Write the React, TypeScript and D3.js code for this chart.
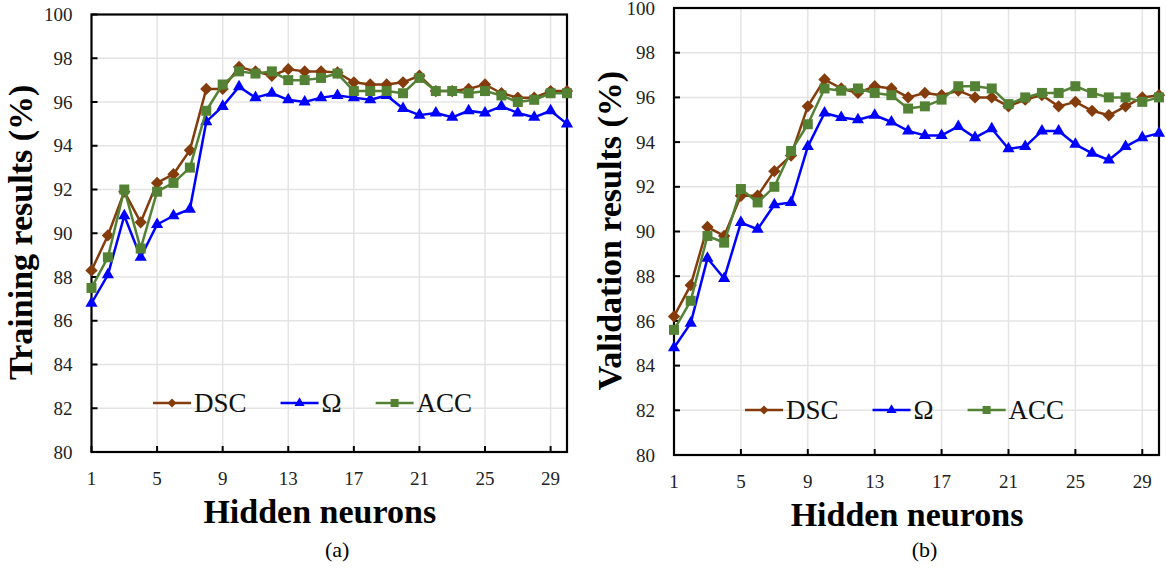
import React, { useEffect, useRef } from 'react';
import * as d3 from 'd3';

// hidden neuron counts (x axis)
const neurons = [1, 2, 3, 4, 5, 6, 7, 8, 9, 10, 11, 12, 13, 14, 15, 16, 17, 18, 19, 20, 21, 22, 23, 24, 25, 26, 27, 28, 29, 30];
const xTicks = [1, 5, 9, 13, 17, 21, 25, 29];
const yTicks = [80, 82, 84, 86, 88, 90, 92, 94, 96, 98, 100];

// (a) training
const trainDSC = [88.3, 89.9, 91.9, 90.5, 92.3, 92.7, 93.8, 96.6, 96.6, 97.6, 97.4, 97.2, 97.5, 97.4, 97.4, 97.35, 96.9, 96.8, 96.8, 96.9, 97.2, 96.5, 96.5, 96.6, 96.8, 96.4, 96.2, 96.2, 96.5, 96.5];
const trainOmega = [86.8, 88.1, 90.8, 88.9, 90.4, 90.8, 91.1, 95.1, 95.8, 96.7, 96.2, 96.4, 96.1, 96.0, 96.2, 96.3, 96.2, 96.1, 96.3, 95.7, 95.4, 95.5, 95.3, 95.6, 95.5, 95.8, 95.5, 95.3, 95.6, 95.0];
const trainACC = [87.5, 88.9, 92.0, 89.3, 91.9, 92.3, 93.0, 95.6, 96.8, 97.4, 97.3, 97.4, 97.0, 97.0, 97.1, 97.3, 96.5, 96.5, 96.5, 96.4, 97.1, 96.5, 96.5, 96.4, 96.5, 96.3, 96.0, 96.1, 96.4, 96.4];

// (b) validation
const valDSC = [86.2, 87.6, 90.2, 89.8, 91.6, 91.6, 92.7, 93.4, 95.6, 96.8, 96.4, 96.2, 96.5, 96.4, 96.0, 96.2, 96.1, 96.3, 96.0, 96.0, 95.6, 95.9, 96.1, 95.6, 95.8, 95.4, 95.2, 95.6, 96.0, 96.1];
const valOmega = [84.8, 85.9, 88.8, 87.9, 90.4, 90.1, 91.2, 91.3, 93.8, 95.3, 95.1, 95.0, 95.2, 94.9, 94.5, 94.3, 94.3, 94.7, 94.2, 94.6, 93.7, 93.8, 94.5, 94.5, 93.9, 93.5, 93.2, 93.8, 94.2, 94.4];
const valACC = [85.6, 86.9, 89.8, 89.5, 91.9, 91.3, 92.0, 93.6, 94.8, 96.4, 96.3, 96.4, 96.2, 96.1, 95.5, 95.6, 95.9, 96.5, 96.5, 96.4, 95.7, 96.0, 96.2, 96.2, 96.5, 96.2, 96.0, 96.0, 95.8, 96.0];

const seriesNames = ['DSC', 'Ω', 'ACC'];

const FONT = "'Liberation Serif', 'Times New Roman', Times, serif";
const colors = { DSC: '#843C0C', 'Ω': '#0000FF', ACC: '#548235' };

const panels = [
  { title: 'Training results (%)', caption: '(a)', values: [trainDSC, trainOmega, trainACC],
    left: 91.5, right: 567, top: 14.5, bottom: 452, titleX: 32, legendX: 153, legendY: 403 },
  { title: 'Validation results (%)', caption: '(b)', values: [valDSC, valOmega, valACC],
    left: 674, right: 1159, top: 8, bottom: 455, titleX: 621, legendX: 745, legendY: 410 },
];

const markerPath = (name, big) => {
  if (name === 'DSC') return d3.symbol(d3.symbolSquare, big ? 76 : 40)();
  if (name === 'Ω') return d3.symbol(d3.symbolTriangle, big ? 64 : 44)();
  return d3.symbol(d3.symbolSquare, big ? 100 : 64)();
};
const markerRotate = (name) => (name === 'DSC' ? 45 : 0);

const App = () => {
  const ref = useRef(null);

  useEffect(() => {
    const svg = d3.select(ref.current);
    svg.selectAll('*').remove();

    panels.forEach((p) => {
      const g = svg.append('g').style('font-family', FONT);
      const x = d3.scaleLinear().domain([1, 30]).range([p.left, p.right]);
      const y = d3.scaleLinear().domain([80, 100]).range([p.bottom, p.top]);

      // grid
      g.selectAll('.hgrid').data(yTicks.filter(t => t > 80 && t < 100)).join('line')
        .attr('x1', p.left).attr('x2', p.right)
        .attr('y1', d => y(d)).attr('y2', d => y(d))
        .attr('stroke', '#e4e4e4').attr('stroke-width', 1.5);
      g.selectAll('.vgrid').data(xTicks.filter(t => t > 1)).join('line')
        .attr('x1', d => x(d)).attr('x2', d => x(d))
        .attr('y1', p.top).attr('y2', p.bottom)
        .attr('stroke', '#e4e4e4').attr('stroke-width', 1.5);

      // frame
      g.append('rect')
        .attr('x', p.left).attr('y', p.top)
        .attr('width', p.right - p.left).attr('height', p.bottom - p.top)
        .attr('fill', 'none').attr('stroke', '#000').attr('stroke-width', 2.2);

      // ticks
      g.selectAll('.yt').data(yTicks).join('line')
        .attr('x1', p.left).attr('x2', p.left + 6)
        .attr('y1', d => y(d)).attr('y2', d => y(d))
        .attr('stroke', '#000').attr('stroke-width', 2);
      g.selectAll('.xt').data(xTicks).join('line')
        .attr('x1', d => x(d)).attr('x2', d => x(d))
        .attr('y1', p.bottom).attr('y2', p.bottom - 6)
        .attr('stroke', '#000').attr('stroke-width', 2);

      // tick labels
      g.selectAll('.yl').data(yTicks).join('text')
        .attr('x', p.left - 19).attr('y', d => y(d)).attr('dy', '0.35em')
        .attr('text-anchor', 'end')
        .style('font-family', FONT).attr('font-size', 19).attr('fill', '#222')
        .text(d => d);
      g.selectAll('.xl').data(xTicks).join('text')
        .attr('x', d => x(d)).attr('y', p.bottom + 33)
        .attr('text-anchor', 'middle')
        .style('font-family', FONT).attr('font-size', 19).attr('fill', '#222')
        .text(d => d);

      // axis titles
      const cx = (p.left + p.right) / 2;
      g.append('text')
        .attr('x', cx - 9.5).attr('y', p.bottom + 71)
        .attr('text-anchor', 'middle')
        .style('font-family', FONT).attr('font-size', 34).attr('font-weight', 'bold')
        .text('Hidden neurons');
      g.append('text')
        .attr('transform', `translate(${p.titleX},${(p.top + p.bottom) / 2 - 1}) rotate(-90)`)
        .attr('text-anchor', 'middle')
        .style('font-family', FONT).attr('font-size', 34).attr('font-weight', 'bold')
        .text(p.title);
      g.append('text')
        .attr('x', cx + 8).attr('y', 557)
        .attr('text-anchor', 'middle')
        .style('font-family', FONT).attr('font-size', 22)
        .text(p.caption);

      // series
      seriesNames.forEach((name, i) => {
        const vals = p.values[i];
        const line = d3.line().x((d, j) => x(neurons[j])).y(d => y(d));
        g.append('path')
          .attr('d', line(vals))
          .attr('fill', 'none').attr('stroke', colors[name]).attr('stroke-width', 2.5)
          .attr('stroke-linejoin', 'round');
        g.selectAll(`.m${i}`).data(vals).join('path')
          .attr('d', markerPath(name, true))
          .attr('transform', (d, j) => `translate(${x(neurons[j])},${y(d)}) rotate(${markerRotate(name)})`)
          .attr('fill', colors[name]);
      });

      // legend
      let lx = p.legendX;
      seriesNames.forEach((name) => {
        g.append('line')
          .attr('x1', lx).attr('x2', lx + 38)
          .attr('y1', p.legendY).attr('y2', p.legendY)
          .attr('stroke', colors[name]).attr('stroke-width', 2.5);
        g.append('path')
          .attr('d', markerPath(name, false))
          .attr('transform', `translate(${lx + 19},${p.legendY}) rotate(${markerRotate(name)})`)
          .attr('fill', colors[name]);
        const t = g.append('text')
          .attr('x', lx + 41).attr('y', p.legendY + 9)
          .style('font-family', FONT).attr('font-size', 27).attr('fill', '#111')
          .text(name);
        const w = t.node().getComputedTextLength();
        lx = lx + 41 + w + 34;
      });
    });
  }, []);

  return (
    <svg ref={ref} width={1166} height={568}
      style={{ position: 'absolute', left: 0, top: 0, background: '#fff' }} />
  );
};

export default App;
